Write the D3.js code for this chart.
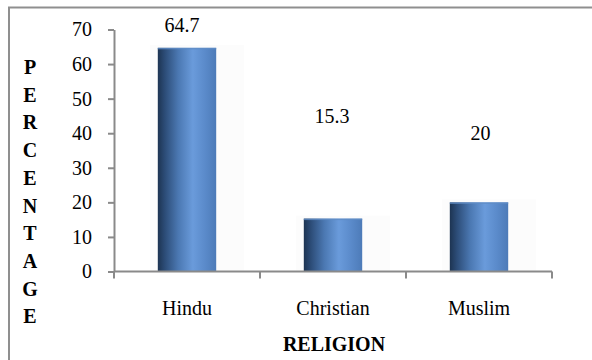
<!DOCTYPE html>
<html>
<head>
<meta charset="utf-8">
<script src="https://cdn.jsdelivr.net/npm/d3@7/dist/d3.min.js"></script>
<style>
  html, body { margin: 0; padding: 0; background: #fff; }
  svg { display: block; }
  text { font-family: "Liberation Serif", "Times New Roman", serif; fill: #000; }
</style>
</head>
<body>
<svg id="chart" width="592" height="360"></svg>
<script>
// Religion of respondents (percentage)
const categories = ["Hindu", "Christian", "Muslim"];
const percentages = [64.7, 15.3, 20];
const yTicks = [0, 10, 20, 30, 40, 50, 60, 70];
const yTitle = "PERCENTAGE";
const xTitle = "RELIGION";

// Where each value label sits (in axis units) and its horizontal nudge
const labelLevel = [69.3, 43, 38];
const labelNudge = [-5, -1, 1.5];

const svg = d3.select("#chart");
const W = 592, H = 360;

// Outer frame (runs off the right and bottom edges)
svg.append("rect")
  .attr("x", 9).attr("y", 7.5)
  .attr("width", W).attr("height", H)
  .attr("fill", "none").attr("stroke", "#8f8f8f").attr("stroke-width", 2);

const plot = { left: 114, right: 552, top: 29.5, bottom: 271.5 };

const x = d3.scaleBand().domain(categories).range([plot.left, plot.right]).padding(0);
const y = d3.scaleLinear().domain([0, 70]).range([plot.bottom, plot.top]);

// Cylinder-like shading for the bars
const defs = svg.append("defs");
const grad = defs.append("linearGradient").attr("id", "barShade")
  .attr("x1", "0%").attr("x2", "100%").attr("y1", "0%").attr("y2", "0%");
[
  [0, "#1d3452"], [0.12, "#2c4c77"], [0.35, "#4b78b2"],
  [0.6, "#6a9bdb"], [0.8, "#5b8bcb"], [1, "#4d7bb8"]
].forEach(([o, c]) => grad.append("stop").attr("offset", o).attr("stop-color", c));

const barW = x.bandwidth() * 0.4;

// Very faint backdrop around each bar
svg.append("g").selectAll("rect").data(percentages).join("rect")
  .attr("x", (d, i) => x(categories[i]) + x.bandwidth() / 2 - barW / 2 - 8)
  .attr("width", barW + 36)
  .attr("y", d => y(d) - 3)
  .attr("height", d => plot.bottom - y(d) + 3)
  .attr("fill", "#fcfcfc");

svg.append("g").selectAll("rect").data(percentages).join("rect")
  .attr("x", (d, i) => x(categories[i]) + x.bandwidth() / 2 - barW / 2)
  .attr("width", barW)
  .attr("y", d => y(d))
  .attr("height", d => plot.bottom - y(d))
  .attr("fill", "url(#barShade)");

// Light rim at the top of each bar
svg.append("g").selectAll("rect").data(percentages).join("rect")
  .attr("x", (d, i) => x(categories[i]) + x.bandwidth() / 2 - barW / 2)
  .attr("width", barW)
  .attr("y", d => y(d))
  .attr("height", 1.5)
  .attr("fill", "#5f8cc6").attr("opacity", 0.8);

// Y axis
const yAxis = svg.append("g")
  .attr("transform", `translate(${plot.left},0)`)
  .call(d3.axisLeft(y).tickValues(yTicks).tickSize(6).tickSizeOuter(0).tickPadding(16));
yAxis.attr("font-family", null);
yAxis.select(".domain").attr("stroke", "#8a8a8a").attr("stroke-width", 2);
yAxis.selectAll(".tick line").attr("stroke", "#8a8a8a").attr("stroke-width", 2);
yAxis.selectAll(".tick text")
  .attr("font-size", 20)
  .attr("fill", "#000");

// X axis with ticks between categories
const xAxis = svg.append("g")
  .attr("transform", `translate(0,${plot.bottom})`);
xAxis.append("line")
  .attr("x1", plot.left).attr("x2", plot.right)
  .attr("stroke", "#8a8a8a").attr("stroke-width", 2);
const boundaries = categories.map(c => x(c) + x.bandwidth()).concat([x(categories[0])]);
xAxis.selectAll(".sep").data(boundaries).join("line")
  .attr("class", "sep")
  .attr("x1", d => d).attr("x2", d => d)
  .attr("y1", 0).attr("y2", 7)
  .attr("stroke", "#8a8a8a").attr("stroke-width", 2);
xAxis.selectAll(".cat").data(categories).join("text")
  .attr("class", "cat")
  .attr("x", d => x(d) + x.bandwidth() / 2)
  .attr("y", 43.5)
  .attr("text-anchor", "middle")
  .attr("font-size", 20)
  .text(d => d);

// Value labels
svg.append("g").selectAll("text").data(percentages).join("text")
  .attr("x", (d, i) => x(categories[i]) + x.bandwidth() / 2 + labelNudge[i])
  .attr("y", (d, i) => y(labelLevel[i]))
  .attr("text-anchor", "middle")
  .attr("font-size", 20)
  .text(d => d);

// Axis titles
svg.append("text")
  .attr("x", (plot.left + plot.right) / 2 + 1)
  .attr("y", 351)
  .attr("text-anchor", "middle")
  .attr("font-size", 20)
  .attr("font-weight", "bold")
  .text(xTitle);

svg.append("g").selectAll("text").data(yTitle.split("")).join("text")
  .attr("x", 30)
  .attr("y", (d, i) => 74 + i * 27.7)
  .attr("text-anchor", "middle")
  .attr("font-size", 20)
  .attr("font-weight", "bold")
  .text(d => d);
</script>
</body>
</html>
